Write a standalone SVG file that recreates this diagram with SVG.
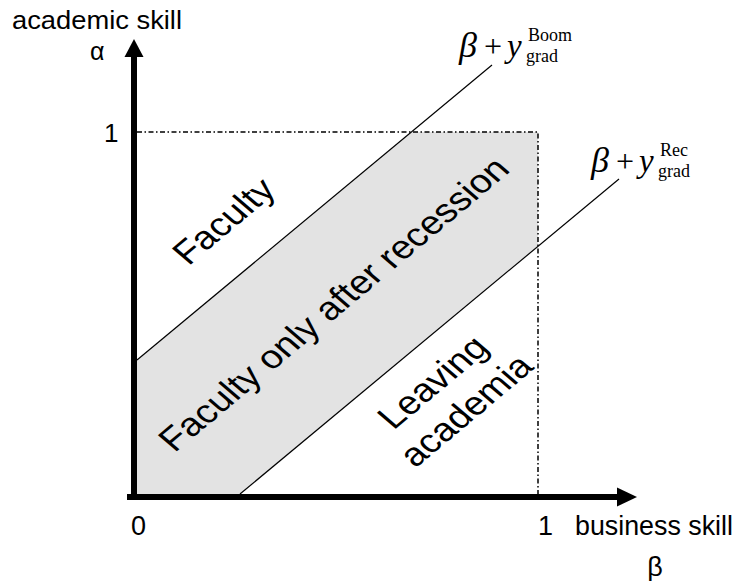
<svg xmlns="http://www.w3.org/2000/svg" width="736" height="581" viewBox="0 0 736 581">
<style>
.sans{font-family:"Liberation Sans",Arial,sans-serif;fill:#000}
.serif{font-family:"Liberation Serif","Times New Roman",serif;fill:#000}
.it{font-style:italic}
.thin{stroke:#000;stroke-width:1.2;fill:none}
.axis{stroke:#000;stroke-width:6;fill:none}
.box{stroke:#000;stroke-width:1.5;fill:none;stroke-dasharray:5 2.5 1.5 2.5}
.region{font-size:33px}
</style>
<rect width="736" height="581" fill="#fff"/>
<g id="band">
<polygon points="137,360 411.4,132 538,132 538,246.3 240,494 137,494" fill="#e3e3e3"/>
</g>
<g id="box">
<polyline class="box" points="137,132 538,132 538,494"/>
</g>
<g id="connectors">
<line id="boom-line" class="thin" x1="137" y1="360" x2="492" y2="65"/>
<line id="rec-line" class="thin" x1="240" y1="494" x2="619" y2="179"/>
</g>
<g id="axes">
<line class="axis" x1="134" y1="500" x2="134" y2="56"/>
<polygon points="124.5,57 143.5,57 134,39"/>
<line class="axis" x1="127" y1="497" x2="618" y2="497"/>
<polygon points="617,487.5 617,506.5 637,497"/>
</g>
<g id="axis-labels" class="sans">
<text x="12" y="29" font-size="25" textLength="170" lengthAdjust="spacingAndGlyphs">academic skill</text>
<text x="90" y="60" font-size="25">α</text>
<text x="104" y="142" font-size="26">1</text>
<text x="131" y="535" font-size="27">0</text>
<text x="538" y="535" font-size="27">1</text>
<text x="575" y="535" font-size="27" textLength="158" lengthAdjust="spacingAndGlyphs">business skill</text>
<text x="655" y="576" font-size="27" text-anchor="middle">β</text>
</g>
<g id="faculty" class="sans region">
<text transform="translate(233,229) scale(1.18,1) rotate(-44.7)" text-anchor="middle">Faculty</text>
</g>
<g id="faculty-after-recession" class="sans region">
<text transform="translate(343,312) scale(1.18,1) rotate(-44.7)" text-anchor="middle">Faculty only after recession</text>
</g>
<g id="leaving-academia" class="sans region">
<g transform="translate(442,390) scale(1.18,1) rotate(-44.7)">
<text x="0" y="0" text-anchor="middle">Leaving</text>
<text x="0" y="40" text-anchor="middle">academia</text>
</g>
</g>
<g id="label-boom" class="serif">
<text x="459" y="57" font-size="36" class="it">β</text>
<text x="484" y="57" font-size="32">+</text>
<text x="507" y="57" font-size="33" class="it">y</text>
<text x="528" y="41" font-size="18">Boom</text>
<text x="526" y="62" font-size="18">grad</text>
</g>
<g id="label-rec" class="serif">
<text x="591" y="172" font-size="36" class="it">β</text>
<text x="616" y="172" font-size="32">+</text>
<text x="639" y="172" font-size="33" class="it">y</text>
<text x="660" y="156" font-size="18">Rec</text>
<text x="658" y="177" font-size="18">grad</text>
</g>
</svg>
